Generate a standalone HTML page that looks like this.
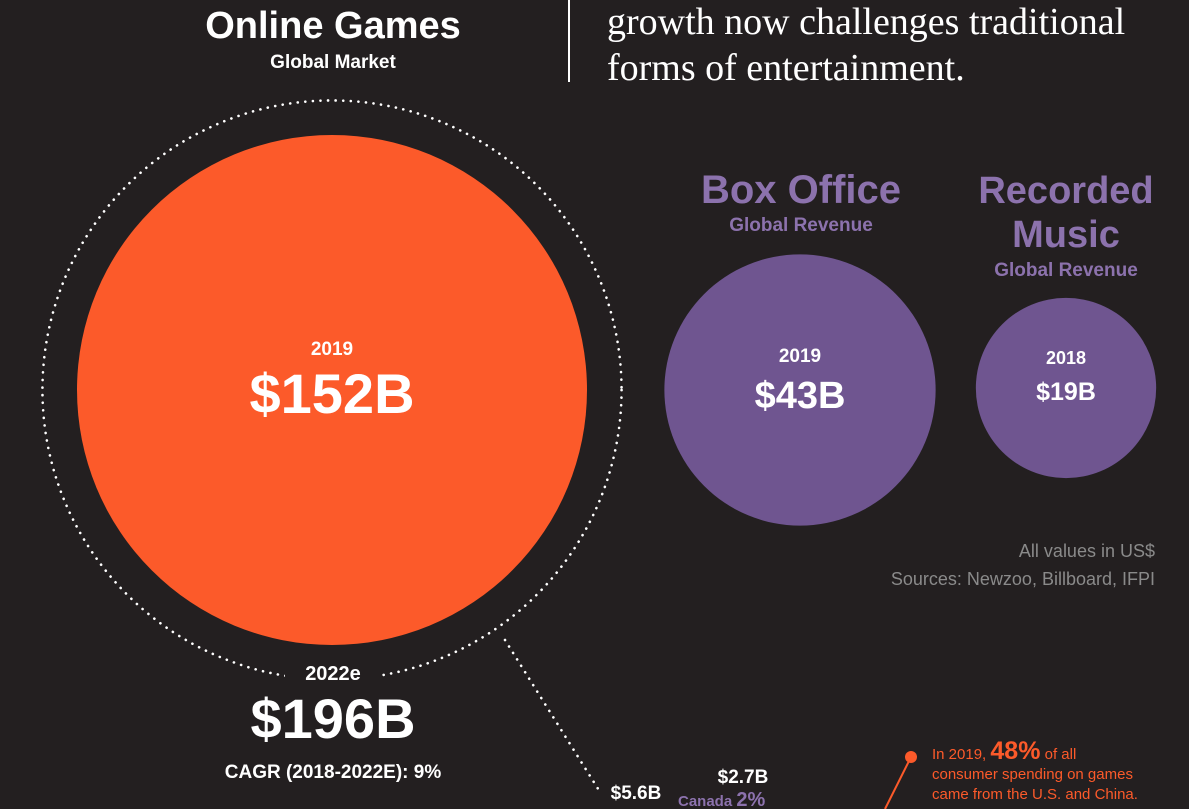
<!DOCTYPE html>
<html><head><meta charset="utf-8">
<style>
html,body{margin:0;padding:0;background:#231f20;}
body{width:1189px;height:809px;overflow:hidden;position:relative;font-family:"Liberation Sans",sans-serif;}
svg{position:absolute;left:0;top:0;}
</style></head>
<body>
<svg id="chart" width="1189" height="809"></svg>
<script>
const categories = ["Online Games","Box Office","Recorded Music"];
const years = ["2019","2019","2018"];
const values = [152,43,19];
const valueLabels = ["$152B","$43B","$19B"];
const forecastValue = 196;
const forecastLabel = "$196B";

const NS="http://www.w3.org/2000/svg";
const svg=document.getElementById('chart');
function el(tag,attrs,parent){const e=document.createElementNS(NS,tag);for(const k in attrs)e.setAttribute(k,attrs[k]);(parent||svg).appendChild(e);return e;}
function txt(s,attrs){const e=el('text',Object.assign({'font-family':'"Liberation Sans",sans-serif','text-anchor':'middle'},attrs));e.textContent=s;return e;}
const rScale=v=>255*Math.sqrt(v/152);
const centers=[[332,390],[800,390],[1066,388]];
const fills=["#fc5a2a","#6f5590","#6f5590"];

const rf=rScale(forecastValue);
const ring=el('circle',{cx:centers[0][0],cy:centers[0][1],r:rf,fill:'none',stroke:'#fff','stroke-width':2.6,'stroke-dasharray':'0.1 7.5','stroke-linecap':'round'});


const ln=el('line',{x1:505,y1:640,x2:600,y2:792,stroke:'#fff','stroke-width':2.6,'stroke-dasharray':'0.1 7.5','stroke-linecap':'round'});


el('rect',{x:285,y:655,width:95,height:32,fill:'#231f20'});

values.forEach((v,i)=>{
  const [cx,cy]=centers[i];
  const c=el('circle',{cx,cy,r:rScale(v),fill:fills[i]});
  
  
  const big=i===0?56:i===1?38:25;
  const y1=txt(years[i],{x:cx,y:cy-(i===0?35:i===1?28:24),fill:'#fff','font-size':i===2?18:19,'font-weight':'bold'});
  
  
  const vl=txt(valueLabels[i],{x:cx,y:cy+(i===0?23:i===1?18:12),fill:'#fff','font-size':big,'font-weight':'bold'});
  
  
});

function label(s,x,y,size,color,name,weight,family){const t=txt(s,{x,y,fill:color,'font-size':size,'font-weight':weight||'bold'});if(family)t.setAttribute('font-family',family);return t;}
label("Online Games",333,38,38,'#fff','title-online-games');
label("Global Market",333,68,19,'#fff','subtitle-global-market');
label("Box Office",801,203,40,'#8c72ad','title-box-office');
label("Global Revenue",801,231,19,'#8c72ad','subtitle-box-office');
label("Recorded",1066,203,38,'#8c72ad','title-recorded');
label("Music",1066,247,38,'#8c72ad','title-music');
label("Global Revenue",1066,276,19,'#8c72ad','subtitle-music');
label("2022e",333,680,20,'#fff','forecast-year');
label(forecastLabel,333,738,56,'#fff','forecast-value');
label("CAGR (2018-2022E): 9%",333,778,19,'#fff','cagr-label');
const n1=label("All values in US$",1155,557,18,'#8a8a8a','note-currency','normal');n1.setAttribute('text-anchor','end');
const n2=label("Sources: Newzoo, Billboard, IFPI",1155,585,18,'#8a8a8a','note-sources','normal');n2.setAttribute('text-anchor','end');

const d=el('line',{x1:569,y1:0,x2:569,y2:82,stroke:'#fff','stroke-width':2});

const s1=label("growth now challenges traditional",607,34,38,'#fff','intro-line-1','normal','"Liberation Serif",serif');s1.setAttribute('text-anchor','start');
const s2=label("forms of entertainment.",607,80,38,'#fff','intro-line-2','normal','"Liberation Serif",serif');s2.setAttribute('text-anchor','start');

label("$5.6B",636,799,19,'#fff','value-5-6b');
label("$2.7B",743,783,19,'#fff','value-2-7b');
const cn=el('text',{x:678,y:806,fill:'#8c72ad','font-family':'"Liberation Sans",sans-serif','font-weight':'bold'});

cn.innerHTML='<tspan font-size="15">Canada </tspan><tspan font-size="20">2%</tspan>';

const cl=el('line',{x1:911,y1:757,x2:885,y2:809,stroke:'#fc5a2a','stroke-width':2});

const cd=el('circle',{cx:911,cy:757,r:6,fill:'#fc5a2a'});

const ct=el('text',{x:932,y:759,fill:'#fc5a2a','font-family':'"Liberation Sans",sans-serif','font-size':15});

ct.innerHTML='In 2019, <tspan font-size="25" font-weight="bold">48%</tspan> of all';
const c2=label("consumer spending on games",932,779,15,'#fc5a2a','callout-text-2','normal');c2.setAttribute('text-anchor','start');
const c3=label("came from the U.S. and China.",932,799,15,'#fc5a2a','callout-text-3','normal');c3.setAttribute('text-anchor','start');
</script>
</body></html>
